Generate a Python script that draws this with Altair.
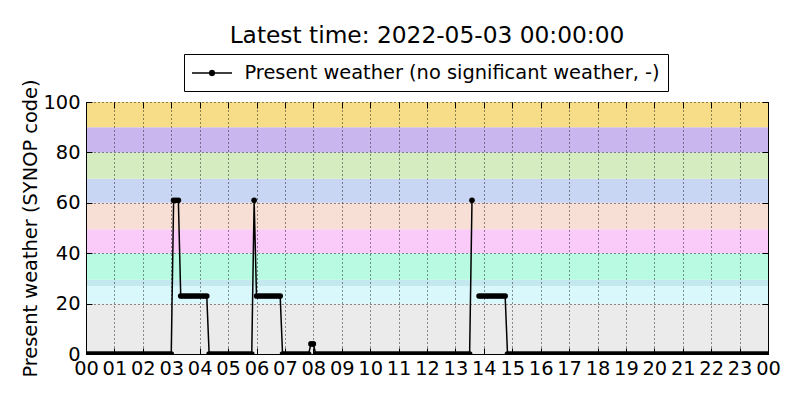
import altair as alt
import pandas as pd

FONT = "DejaVu Sans"

title_text = "Latest time: 2022-05-03 00:00:00"
series_name = "Present weather (no significant weather, -)"
y_title = "Present weather (SYNOP code)"

# Observed SYNOP codes as constant runs (start, end inclusive), sampled every 5 min
run_start = ["00:00", "03:05", "03:20", "04:20", "05:55", "06:00", "06:55", "07:55", "08:05", "13:35", "13:50", "14:50"]
run_end   = ["03:00", "03:15", "04:15", "05:50", "05:55", "06:50", "07:50", "08:00", "13:30", "13:35", "14:45", "24:00"]
run_value = [0, 61, 23, 0, 61, 23, 0, 4, 0, 61, 23, 0]
run_part  = [0, 0, 0, 0, 0, 0, 0, 0, 0, 0, 1, 1]
sample_step_min = 5

# Background SYNOP code bands
band_lo = [0, 20, 27, 29.5, 40, 49.5, 60, 69.5, 80, 90]
band_hi = [20, 27, 29.5, 40, 49.5, 60, 69.5, 80, 90, 100]
band_color = ["#ebebeb", "#d8f8fc", "#c3e9ef", "#b8fae2", "#facaf9",
              "#f8dfd6", "#c8d6f4", "#d4ecc0", "#c9b6ee", "#f7dd87"]

hour_ticks = list(range(25))
y_ticks = [0, 20, 40, 60, 80, 100]


def to_min(s):
    h, m = s.split(":")
    return int(h) * 60 + int(m)


rows = []
for s, e, v, p in zip(run_start, run_end, run_value, run_part):
    for t in range(to_min(s), to_min(e) + 1, sample_step_min):
        rows.append({"hour": t / 60.0, "value": v, "part": p, "series": series_name})
obs = pd.DataFrame(rows)

bands_df = pd.DataFrame({"lo": band_lo, "hi": band_hi, "col": band_color})

xscale = alt.Scale(domain=[0, 24], nice=False, zero=False)
yscale = alt.Scale(domain=[0, 100], nice=False, zero=False)
inward = {"expr": "-6"}

bands = alt.Chart(bands_df).mark_rect().encode(
    y=alt.Y("lo:Q", scale=yscale, axis=alt.Axis(
        orient="left", values=y_ticks, title=y_title, grid=True,
        tickSize=inward, labelPadding=12, zindex=1,
        titleX=-50, titleY=126, titleAngle=270, titleBaseline="alphabetic",
        titleAlign="center")),
    y2="hi:Q",
    color=alt.Color("col:N", scale=None),
)

line = alt.Chart(obs).mark_line(color="black", strokeWidth=1.5, clip=True).encode(
    x=alt.X("hour:Q", scale=xscale, axis=alt.Axis(
        orient="bottom", values=hour_ticks, title=None, grid=True,
        labelExpr="datum.value == 24 ? '00' : (datum.value < 10 ? '0' + datum.value : '' + datum.value)",
        tickSize=inward, labelPadding=11, labelFlush=False, labelOverlap=False, zindex=1)),
    y=alt.Y("value:Q", scale=yscale, axis=alt.Axis(
        orient="right", values=y_ticks, title=None, labels=False, grid=False,
        domain=False, tickSize=inward, zindex=1)),
    detail="part:N",
)

legend_symbol = ("M-2,0L2,0M-0.25,0L-0.18,-0.18L0,-0.25L0.18,-0.18L0.25,0"
                 "L0.18,0.18L0,0.25L-0.18,0.18Z")

points = alt.Chart(obs).mark_circle(size=32, opacity=1, clip=True).encode(
    x=alt.X("hour:Q", scale=xscale, axis=alt.Axis(
        orient="top", values=hour_ticks, title=None, labels=False, grid=False,
        domain=False, tickSize=inward, zindex=1)),
    y=alt.Y("value:Q", scale=yscale, axis=None),
    color=alt.Color("series:N", scale=alt.Scale(range=["black"]), legend=alt.Legend(
        title=None, orient="none", legendX=98, legendY=-48, padding=8,
        strokeColor="black", fillColor="white", cornerRadius=0,
        symbolType=legend_symbol, symbolSize=400, symbolFillColor="black",
        symbolStrokeColor="black", symbolStrokeWidth=1.5, symbolOffset=9,
        labelOffset=21.5, labelFontSize=19.4, labelFont=FONT, labelColor="black",
        labelLimit=1000)),
)

chart = alt.layer(bands, line, points).resolve_axis(
    x="independent", y="independent"
).properties(
    width=682, height=252,
    autosize="none",
    padding={"left": 78, "top": 94, "right": 24, "bottom": 38},
    title=alt.TitleParams(title_text, font=FONT, fontSize=23.3, fontWeight="normal",
                          color="black", anchor="middle", baseline="alphabetic", offset=-13),
).configure_view(
    stroke="black", strokeWidth=1
).configure_axis(
    labelFont=FONT, labelFontSize=19.4, labelColor="black",
    titleFont=FONT, titleFontSize=19.4, titleFontWeight="normal", titleColor="black",
    domainColor="black", domainWidth=1, tickColor="black", tickWidth=1,
    gridColor="black", gridDash=[1, 3], gridWidth=1, gridOpacity=0.85,
)

chart.save("out.html", embed_options={"renderer": "svg", "actions": False})
